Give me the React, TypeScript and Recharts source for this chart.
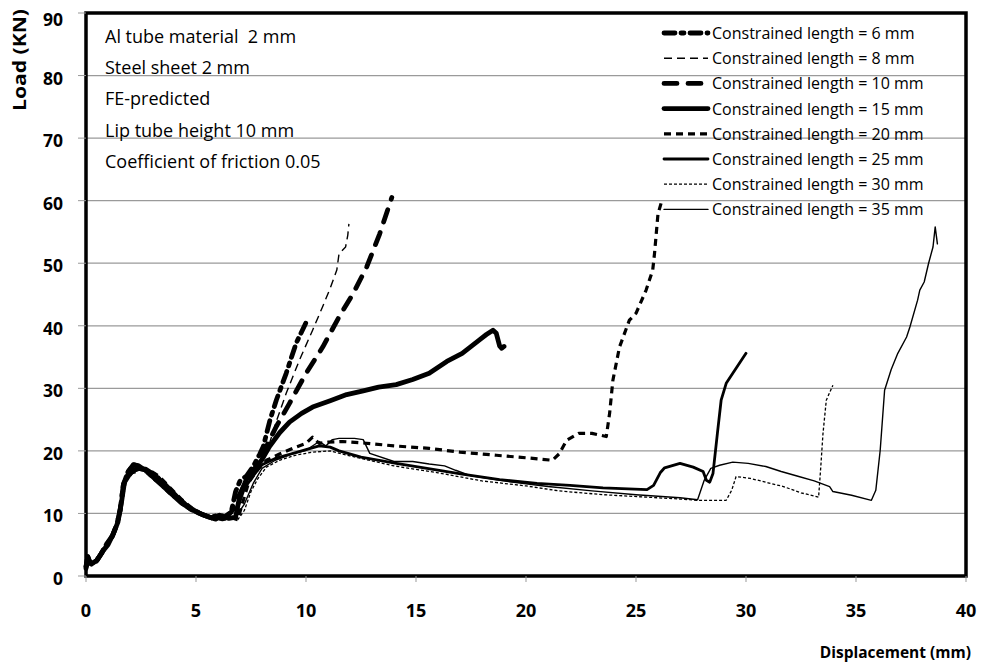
import { LineChart, Line, XAxis, YAxis, CartesianGrid, ReferenceArea } from "recharts";

type Pt = { x: number; y: number };
const pts = (a: number[][]): Pt[] => a.map(([x, y]) => ({ x, y }));

// shared start of the crush curves (three slightly different traces)
const riseA = [
  [0, 1.5], [0.08, 3.1], [0.2, 2.0], [0.45, 2.3], [0.7, 3.6], [0.95, 5.2], [1.2, 6.4], [1.4, 8.2],
  [1.55, 10.5], [1.7, 14.6], [1.9, 16.6], [2.15, 17.8], [2.4, 17.6], [2.8, 16.6], [3.3, 15.0],
  [3.8, 13.4], [4.3, 11.8], [4.8, 10.6], [5.3, 9.8], [5.7, 9.3], [6.0, 9.8], [6.3, 9.4], [6.6, 10.2],
];
const riseB = [
  [0, 1.2], [0.1, 2.8], [0.25, 1.9], [0.5, 2.5], [0.75, 3.9], [1.0, 5.0], [1.25, 6.8], [1.45, 8.6],
  [1.6, 11.5], [1.75, 15.0], [2.0, 16.4], [2.3, 17.2], [2.7, 17.1], [3.1, 16.2], [3.6, 14.6],
  [4.1, 12.8], [4.6, 11.2], [5.1, 10.1], [5.6, 9.4], [5.9, 9.1], [6.2, 9.6], [6.5, 9.2], [6.8, 9.4],
];
const riseC = [
  [0, 1.6], [0.1, 2.5], [0.3, 2.2], [0.55, 2.8], [0.8, 4.2], [1.05, 5.6], [1.3, 7.2], [1.5, 9.4],
  [1.65, 12.5], [1.8, 15.3], [2.1, 16.5], [2.5, 17.0], [2.9, 16.9], [3.3, 16.0], [3.8, 14.2],
  [4.3, 12.4], [4.8, 10.9], [5.3, 9.9], [5.8, 9.3], [6.2, 9.0], [6.6, 9.3], [6.9, 9.0],
];

const len6 = [
  [6.8, 13.5], [7.0, 15.2], [7.3, 16.0], [7.6, 17.5], [7.9, 19.5], [8.06, 20.7], [8.36, 24.9],
  [8.65, 28.1], [9.1, 32.4], [9.55, 37.2], [10.0, 40.5],
];
const len8 = [
  [7.0, 12.0], [7.2, 15.0], [7.5, 16.5], [7.9, 18.5], [8.34, 21.2], [8.67, 24.9], [9.1, 29.2],
  [9.7, 34.5], [10.3, 39.3], [10.75, 43.0], [11.1, 46.0], [11.4, 48.9], [11.5, 51.5], [11.8, 52.6],
  [11.9, 54.5], [11.95, 56.3],
];
const len10 = [
  [6.9, 12.5], [7.2, 14.5], [7.5, 16.2], [7.9, 18.5], [8.2, 20.7], [8.65, 23.9], [9.25, 27.6],
  [10.0, 32.4], [10.76, 36.6], [11.5, 41.4], [12.15, 45.2], [12.76, 49.4], [13.35, 54.7], [13.9, 60.5],
];
const len15 = [
  [7.0, 13.0], [7.3, 15.5], [7.6, 16.8], [8.0, 18.6], [8.34, 20.7], [8.8, 22.9], [9.25, 24.6],
  [9.8, 26.0], [10.3, 27.0], [11.1, 28.0], [11.85, 29.0], [12.6, 29.6], [13.3, 30.2], [14.1, 30.6],
  [14.85, 31.4], [15.6, 32.4], [16.4, 34.3], [17.1, 35.6], [17.9, 37.8], [18.2, 38.6], [18.5, 39.3],
  [18.65, 38.8], [18.8, 36.8], [18.9, 36.4], [19.0, 36.7],
];
const len20 = [
  [7.1, 11.5], [7.4, 15.0], [7.8, 17.0], [8.2, 18.5], [8.8, 19.5], [9.4, 20.4], [10.0, 21.2],
  [10.3, 22.2], [10.6, 21.2], [11.0, 21.4], [11.67, 21.5], [12.5, 21.3], [14.0, 20.8], [15.6, 20.4],
  [17.0, 19.8], [18.65, 19.3], [20.0, 18.9], [21.2, 18.5], [21.5, 19.5], [21.85, 21.7], [22.4, 22.8],
  [23.0, 22.8], [23.65, 22.3], [23.8, 26.0], [23.95, 31.3], [24.25, 36.6], [24.7, 40.9], [25.0, 42.0],
  [25.46, 45.7], [25.76, 48.9], [25.84, 51.5], [26.0, 57.9], [26.2, 60.3],
];
const len25 = [
  [6.9, 11.0], [7.2, 14.0], [7.6, 16.0], [8.0, 17.8], [8.6, 18.8], [9.3, 19.5], [10.0, 20.2],
  [10.6, 20.8], [11.1, 20.6], [11.5, 20.0], [12.5, 19.0], [14.1, 18.0], [15.5, 17.2], [17.1, 16.3],
  [18.8, 15.4], [20.5, 14.8], [22.0, 14.5], [23.5, 14.1], [25.5, 13.8], [25.8, 14.5], [26.1, 16.5],
  [26.3, 17.3], [27.0, 18.0], [27.6, 17.4], [28.05, 16.7], [28.2, 15.3], [28.35, 15.0], [28.5, 16.4],
  [28.7, 22.8], [28.87, 28.1], [29.1, 30.8], [29.55, 33.2], [30.0, 35.6],
];
const len30 = [
  [7.2, 10.5], [7.5, 13.5], [7.8, 15.5], [8.2, 17.4], [8.8, 18.5], [9.5, 19.3], [10.3, 19.8],
  [11.1, 20.0], [12.0, 19.2], [14.0, 17.6], [16.0, 16.5], [18.0, 15.2], [20.0, 14.4], [21.5, 13.6],
  [23.5, 13.0], [25.5, 12.6], [27.0, 12.3], [27.8, 12.1], [28.5, 12.1], [29.1, 12.1], [29.35, 13.7],
  [29.55, 15.9], [30.2, 15.6], [31.0, 14.9], [31.7, 14.3], [32.5, 13.3], [33.3, 12.6], [33.4, 17.5],
  [33.5, 22.8], [33.65, 28.1], [33.95, 30.5],
];
const len35 = [
  [7.2, 11.5], [7.6, 14.8], [8.0, 17.2], [8.6, 18.5], [9.3, 19.4], [10.0, 20.1], [10.6, 21.5],
  [10.9, 20.8], [11.2, 21.8], [11.5, 22.0], [12.2, 22.0], [12.6, 21.8], [12.9, 19.6], [14.0, 18.3],
  [14.85, 18.3], [15.6, 17.9], [16.3, 17.6], [16.8, 16.9], [17.5, 16.0], [19.0, 15.2], [21.0, 14.3],
  [23.0, 13.6], [25.0, 13.0], [27.0, 12.5], [27.8, 12.2], [28.1, 15.3], [28.4, 17.2], [28.8, 17.7],
  [29.4, 18.2], [30.1, 18.0], [30.9, 17.5], [31.6, 16.7], [32.4, 15.9], [33.1, 15.2], [33.8, 14.3],
  [33.95, 13.5], [34.8, 12.9], [35.7, 12.1], [35.9, 13.7], [36.1, 20.1], [36.3, 29.7], [36.6, 33.0],
  [36.9, 35.6], [37.3, 38.2], [37.45, 39.8], [37.8, 44.1], [37.9, 45.7], [38.1, 47.0], [38.3, 50.0],
  [38.5, 52.6], [38.6, 55.8], [38.7, 53.1],
];

const xTicks = [0, 5, 10, 15, 20, 25, 30, 35, 40];
const yTicks = [0, 10, 20, 30, 40, 50, 60, 70, 80, 90];
const notes = ["Al tube material  2 mm", "Steel sheet 2 mm", "FE-predicted", "Lip tube height 10 mm", "Coefficient of friction 0.05"];

const series = [
  { name: "Constrained length = 6 mm", data: pts([...riseA, ...len6]), w: 4.8, dash: "11 6 3 6", cap: "round" },
  { name: "Constrained length = 8 mm", data: pts([...riseB, ...len8]), w: 1.4, dash: "8 5", cap: "butt" },
  { name: "Constrained length = 10 mm", data: pts([...riseA, ...len10]), w: 4.8, dash: "13 11", cap: "round" },
  { name: "Constrained length = 15 mm", data: pts([...riseB, ...len15]), w: 4.8, dash: undefined, cap: "round" },
  { name: "Constrained length = 20 mm", data: pts([...riseC, ...len20]), w: 3.2, dash: "7 5", cap: "butt" },
  { name: "Constrained length = 25 mm", data: pts([...riseA, ...len25]), w: 2.8, dash: undefined, cap: "round" },
  { name: "Constrained length = 30 mm", data: pts([...riseC, ...len30]), w: 1.3, dash: "3 2", cap: "butt" },
  { name: "Constrained length = 35 mm", data: pts([...riseB, ...len35]), w: 1.4, dash: undefined, cap: "round" },
];

const tickFont = "'Open Sans', 'Noto Sans', sans-serif";
const textFont = "'Open Sans', 'Noto Sans', sans-serif";

const XTick = ({ x, y, payload }: any) => (
  <text x={x} y={y + 33} textAnchor="middle" fontFamily={tickFont} fontWeight="bold" fontSize={18} fill="#000">
    {payload.value}
  </text>
);
const YTick = ({ x, y, payload }: any) => (
  <text x={x} y={y + 9} textAnchor="end" fontFamily={tickFont} fontWeight="bold" fontSize={17.5} fill="#000">
    {payload.value}
  </text>
);

export default function App() {
  return (
    <div style={{ position: "relative", width: 970, height: 662 }}>
      <LineChart width={970} height={654} margin={{ top: 5, right: 12, left: 0, bottom: 0 }}>
        <CartesianGrid horizontal vertical={false} stroke="#9a9a9a" strokeWidth={1.3} />
        <XAxis
          type="number"
          dataKey="x"
          domain={[0, 40]}
          ticks={xTicks}
          height={86}
          axisLine={false}
          tickLine={{ stroke: "#999" }}
          tickSize={6}
          tick={<XTick />}
        />
        <YAxis
          type="number"
          domain={[0, 90]}
          ticks={yTicks}
          width={78}
          axisLine={false}
          tickLine={{ stroke: "#999" }}
          tickSize={8}
          tickMargin={15}
          tick={<YTick />}
        />
        {series.map((s) => (
          <Line
            key={s.name}
            data={s.data}
            dataKey="y"
            type="linear"
            stroke="#000"
            strokeWidth={s.w}
            strokeDasharray={s.dash}
            strokeLinecap={s.cap as any}
            strokeLinejoin="round"
            dot={false}
            activeDot={false}
            isAnimationActive={false}
          />
        ))}
        <ReferenceArea x1={0} x2={40} y1={0} y2={90} fill="none" stroke="#000" strokeWidth={3.5} />
      </LineChart>
      <svg width={970} height={662} style={{ position: "absolute", left: 0, top: 0, pointerEvents: "none" }}>
        {notes.map((t, i) => (
          <text key={t} x={97} y={35 + i * 31.2} fontFamily={textFont} fontSize={18} fill="#000" style={{ whiteSpace: "pre" }}>
            {t}
          </text>
        ))}
        {series.map((s, i) => {
          const cy = 25 + i * 25.2;
          return (
            <g key={s.name}>
              <line x1={656} x2={700} y1={cy} y2={cy} stroke="#000" strokeWidth={s.w} strokeDasharray={s.dash} strokeLinecap={s.cap as any} />
              <text x={704} y={cy + 6} fontFamily={textFont} fontSize={16} fill="#000">
                {s.name}
              </text>
            </g>
          );
        })}
        <text
          transform="translate(18,52) rotate(-90)"
          textAnchor="middle"
          fontFamily={tickFont}
          fontWeight="bold"
          fontSize={18}
          textLength={102}
          lengthAdjust="spacingAndGlyphs"
          fill="#000"
        >
          Load (KN)
        </text>
        <text x={963} y={650} textAnchor="end" fontFamily={tickFont} fontWeight="bold" fontSize={15.5} fill="#000">
          Displacement (mm)
        </text>
      </svg>
    </div>
  );
}
